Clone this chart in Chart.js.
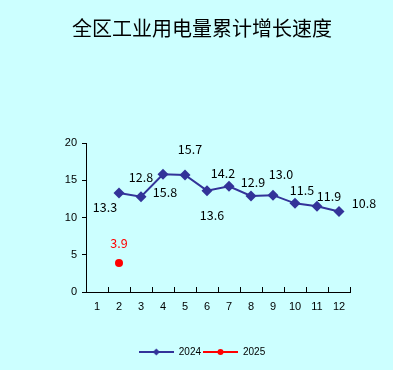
<!DOCTYPE html>
<html>
<head>
<meta charset="utf-8">
<script src="https://cdn.jsdelivr.net/npm/chart.js@4/dist/chart.umd.min.js"></script>
<style>
  html, body { margin: 0; padding: 0; background: #ccffff; }
  #khung { width: 393px; height: 370px; }
</style>
</head>
<body>
<div id="khung"><canvas id="bieuDoDien"></canvas></div>
<script>
// du lieu
const thang = ['1', '2', '3', '4', '5', '6', '7', '8', '9', '10', '11', '12'];
const tangTruong2024 = [null, 13.3, 12.8, 15.8, 15.7, 13.6, 14.2, 12.9, 13.0, 11.9, 11.5, 10.8];
const tangTruong2025 = [null, 3.9, null, null, null, null, null, null, null, null, null, null];
const nhanTrucY = [0, 5, 10, 15, 20];

// vi tri nhan so lieu (lech so voi diem)
const lechNhan2024 = [null, [-14, 14], [0, -19], [2, 18], [5, -26], [5, 25], [-6, -13], [2, -14], [8, -21], [34, -7], [-15, -16], [25, -8]];
const lechNhan2025 = [null, [0, -20]];

function anhChuThich(mau, kieu) {
    const c = document.createElement('canvas');
    c.width = 35;
    c.height = 10;
    const g = c.getContext('2d');
    g.strokeStyle = mau;
    g.lineWidth = 2;
    g.beginPath();
    g.moveTo(0, 5);
    g.lineTo(35, 5);
    g.stroke();
    g.fillStyle = mau;
    g.beginPath();
    if (kieu === 'thoi') {
        g.moveTo(17.5, 1.5);
        g.lineTo(21, 5);
        g.lineTo(17.5, 8.5);
        g.lineTo(14, 5);
    } else {
        g.arc(17.5, 5, 3, 0, Math.PI * 2);
    }
    g.fill();
    return c;
}

const nhanSoLieu = {
    id: 'nhanSoLieu',
    afterDatasetsDraw(chart) {
        const ctx = chart.ctx;
        ctx.save();
        ctx.font = '12.5px "Noto Sans CJK SC", sans-serif';
        ctx.textAlign = 'center';
        ctx.textBaseline = 'middle';
        chart.data.datasets.forEach((ds, i) => {
            const meta = chart.getDatasetMeta(i);
            const lech = i === 0 ? lechNhan2024 : lechNhan2025;
            ctx.fillStyle = i === 0 ? '#000' : '#ff0000';
            meta.data.forEach((diem, j) => {
                const v = ds.data[j];
                if (v == null || !lech[j]) return;
                ctx.fillText(v.toFixed(1), diem.x + lech[j][0], diem.y + lech[j][1]);
            });
        });
        ctx.restore();
    }
};

const vachTrucX = {
    id: 'vachTrucX',
    afterDraw(chart) {
        const x = chart.scales.x;
        const ctx = chart.ctx;
        const buoc = (x.right - x.left) / thang.length;
        ctx.save();
        ctx.strokeStyle = '#000';
        ctx.lineWidth = 1;
        ctx.beginPath();
        for (let i = 1; i <= thang.length; i++) {
            const px = Math.round(x.left + buoc * i) + 0.5;
            ctx.moveTo(px, x.top);
            ctx.lineTo(px, x.top - 5);
        }
        ctx.stroke();
        ctx.restore();
    }
};

const ctx = document.getElementById('bieuDoDien').getContext('2d');
new Chart(ctx, {
    type: 'line',
    data: {
        labels: thang,
        datasets: [{
            label: '2024',
            data: tangTruong2024,
            borderColor: '#333399',
            backgroundColor: '#333399',
            borderWidth: 2,
            pointStyle: 'rectRot',
            pointRadius: 5.5,
            pointBorderWidth: 0,
            tension: 0
        }, {
            label: '2025',
            data: tangTruong2025,
            borderColor: '#ff0000',
            backgroundColor: '#ff0000',
            borderWidth: 2,
            pointStyle: 'circle',
            pointRadius: 4,
            pointBorderWidth: 0
        }]
    },
    options: {
        responsive: true,
        maintainAspectRatio: false,
        animation: false,
        layout: { padding: { left: 54, right: 43, top: 0, bottom: 3 } },
        plugins: {
            title: {
                display: true,
                text: '全区工业用电量累计增长速度',
                color: '#000',
                font: { family: '"Noto Sans CJK SC", sans-serif', size: 20, weight: 'normal' },
                padding: { top: 16, bottom: 103 }
            },
            legend: {
                position: 'bottom',
                labels: {
                    usePointStyle: true,
                    pointStyleWidth: 35,
                    color: '#000',
                    font: { family: '"Liberation Sans", Arial, sans-serif', size: 10 },
                    padding: 2,
                    generateLabels(chart) {
                        const ds = Chart.defaults.plugins.legend.labels.generateLabels(chart);
                        ds[0].pointStyle = anhChuThich('#333399', 'thoi');
                        ds[1].pointStyle = anhChuThich('#ff0000', 'tron');
                        return ds;
                    }
                }
            },
            tooltip: { enabled: false }
        },
        scales: {
            x: {
                offset: true,
                afterFit(s) { s.height = 53; },
                grid: { display: false },
                border: { display: true, color: '#000', width: 1 },
                ticks: {
                    color: '#000',
                    padding: 0,
                    maxRotation: 0,
                    font: { family: '"Liberation Sans", Arial, sans-serif', size: 11 }
                }
            },
            y: {
                min: 0,
                max: 20,
                afterFit(s) { s.width = 32; },
                afterBuildTicks(s) { s.ticks = nhanTrucY.map(v => ({ value: v })); },
                grid: { drawOnChartArea: false, drawTicks: true, tickLength: 4, color: '#000' },
                border: { display: true, color: '#000', width: 1 },
                ticks: {
                    color: '#000',
                    padding: 5,
                    font: { family: '"Liberation Sans", Arial, sans-serif', size: 11 }
                }
            }
        }
    },
    plugins: [nhanSoLieu, vachTrucX]
});
</script>
</body>
</html>
